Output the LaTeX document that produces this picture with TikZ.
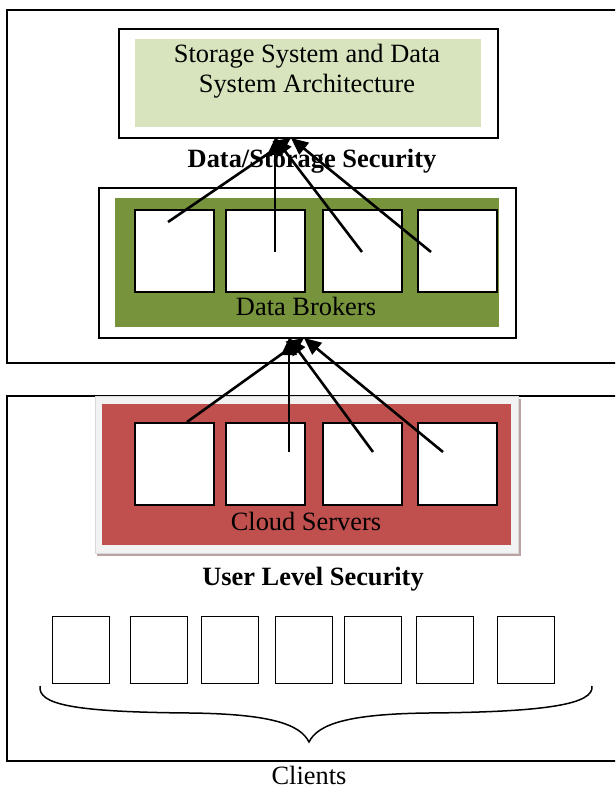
\documentclass[tikz,border=0pt]{standalone}
\usepackage{fontspec}
\setmainfont{Liberation Serif}
\usetikzlibrary{arrows.meta}
\definecolor{lightgreenfill}{HTML}{D7E4BD}
\definecolor{olivefill}{HTML}{77933C}
\definecolor{redfill}{HTML}{C0504D}
\definecolor{panelgray}{HTML}{F2F2F2}
\definecolor{shadowgray}{HTML}{BBA3A3}
\begin{document}
\begin{tikzpicture}[x=1pt,y=-1pt,
  framepath/.style={draw=black,line width=2pt},
  bigbox/.style={draw=black,line width=2pt,fill=white,inner sep=0pt,anchor=north west},
  fillbox/.style={inner sep=0pt,anchor=north west},
  sbox/.style={draw=black,line width=1.9pt,fill=white,minimum width=79pt,minimum height=82pt,inner sep=0pt,anchor=north west},
  cbox/.style={draw=black,line width=1.4pt,fill=white,minimum width=57pt,minimum height=67pt,inner sep=0pt,anchor=north west},
  arr/.style={line width=2.6pt,-{Triangle[length=17pt,width=15pt]}},
  lbl/.style={font=\fontsize{26.4}{31}\selectfont,anchor=base,inner sep=0pt},
  blbl/.style={font=\fontsize{26.4}{31}\selectfont\bfseries,anchor=base,inner sep=0pt}]
\useasboundingbox (0,0) rectangle (615,791);
\clip (0,0) rectangle (615,791);
\fill[white] (0,0) rectangle (615,791);

% outer frames (right edges run off the page)
\draw[framepath] (630,10) -- (7,10) -- (7,363) -- (630,363);
\draw[framepath] (630,396) -- (7,396) -- (7,761) -- (630,761);

% storage system
\node[bigbox,minimum width=379pt,minimum height=109pt] (stor) at (118,28) {};
\node[fillbox,fill=lightgreenfill,minimum width=346pt,minimum height=88pt] (storin) at (135,39) {};
\node[lbl] (st1) at (307,63) {Storage System and Data};
\node[lbl] (st2) at (307,93) {System Architecture};
\node[blbl] (dss) at (312,168) {Data/Storage Security};

% data brokers
\node[bigbox,minimum width=417pt,minimum height=150pt] (brok) at (98,187) {};
\node[fillbox,fill=olivefill,minimum width=384pt,minimum height=129pt] (brokin) at (115,198) {};
\node[sbox] (d1) at (134,209) {};
\node[sbox] (d2) at (225,209) {};
\node[sbox] (d3) at (322,209) {};
\node[sbox] (d4) at (417,209) {};
\node[lbl] (dbl) at (306,315) {Data Brokers};

% cloud servers
\node[fillbox,fill=shadowgray,minimum width=424pt,minimum height=157pt] (cshadow) at (97,399) {};
\node[fillbox,fill=panelgray,draw=black!15,line width=0.5pt,minimum width=423pt,minimum height=157pt] (cpanel) at (95,396) {};
\node[fillbox,fill=redfill,minimum width=409pt,minimum height=141pt] (cred) at (102,404) {};
\node[sbox] (c1) at (134,422) {};
\node[sbox] (c2) at (225,422) {};
\node[sbox] (c3) at (322,422) {};
\node[sbox] (c4) at (417,422) {};
\node[lbl] (csl) at (306,530) {Cloud Servers};
\node[blbl] (uls) at (313,585) {User Level Security};

% clients
\node[cbox] (k1) at (52,616) {};
\node[cbox] (k2) at (130,616) {};
\node[cbox] (k3) at (201,616) {};
\node[cbox] (k4) at (275,616) {};
\node[cbox] (k5) at (344,616) {};
\node[cbox] (k6) at (416,616) {};
\node[cbox] (k7) at (497,616) {};
\draw[line width=1.5pt] (40,686) .. controls (38,704) and (70,712) .. (190,713)
  .. controls (270,714) and (300,724) .. (309,742)
  .. controls (318,724) and (348,714) .. (428,713)
  .. controls (548,712) and (594,704) .. (592,686);
\node[lbl] (cli) at (309,784) {Clients};

% arrow ends
\coordinate (hTL) at (275,138);
\coordinate (hTR) at (291,138);
\coordinate (hBL) at (289,338);
\coordinate (hBR) at (304,338);
\coordinate (sd1) at (168,222);
\coordinate (sd2) at (275,252);
\coordinate (sd3) at (362,252);
\coordinate (sd4) at (431,252);
\coordinate (sc1) at (187,422);
\coordinate (sc2) at (289,452);
\coordinate (sc3) at (373,452);
\coordinate (sc4) at (443,452);

\draw[arr] (sd1) -- (hTR);
\draw[arr] (sd2) -- (hTL);
\draw[arr] (sd3) -- (hTL);
\draw[arr] (sd4) -- (hTR);
\draw[arr] (sc1) -- (hBR);
\draw[arr] (sc2) -- (hBL);
\draw[arr] (sc3) -- (hBL);
\draw[arr] (sc4) -- (hBR);
\end{tikzpicture}
\end{document}
